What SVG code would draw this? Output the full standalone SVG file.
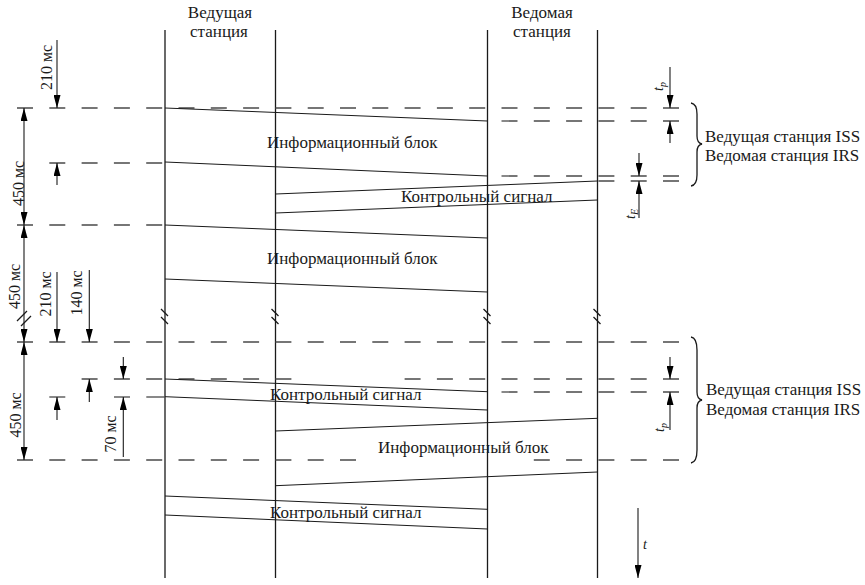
<svg xmlns="http://www.w3.org/2000/svg" width="865" height="585" viewBox="0 0 865 585">
<style>
.st{stroke:#1a1a1a;stroke-width:1.3;fill:none}
.sig{stroke:#1a1a1a;stroke-width:1;fill:none}
.dash{stroke:#4a4a4a;stroke-width:1.3;stroke-dasharray:16 16.3;fill:none}
.dim{stroke:#1a1a1a;stroke-width:1.1;fill:none}
.tk{stroke:#4a4a4a;stroke-width:1.3;fill:none}
text{font-family:'Liberation Serif','DejaVu Serif','Times New Roman',serif}
.t{font-size:17px;fill:#1a1a1a}
.r{font-size:16px;fill:#1a1a1a;text-anchor:middle}
.tc{text-anchor:middle}
.it{font-style:italic;font-size:14px;fill:#1a1a1a}
.brace{stroke:#1a1a1a;stroke-width:1.3;fill:none}
</style>
<defs>
<marker id="ar" markerUnits="userSpaceOnUse" viewBox="0 0 13 7" refX="13" refY="3.5" markerWidth="13" markerHeight="7" orient="auto-start-reverse">
<path d="M0,0 L13,3.5 L0,7 z" fill="#000"/>
</marker>
</defs>

<g id="master-header">
<text class="t tc" x="220" y="18">Ведущая</text>
<text class="t tc" x="219" y="37">станция</text>
</g>
<g id="slave-header">
<text class="t tc" x="542" y="18">Ведомая</text>
<text class="t tc" x="542" y="37">станция</text>
</g>

<g id="station-lines">
<line class="st" x1="165" y1="30" x2="165" y2="578"/>
<line class="st" x1="275.5" y1="30" x2="275.5" y2="578"/>
<line class="st" x1="487.5" y1="30" x2="487.5" y2="578"/>
<line class="st" x1="597.5" y1="30" x2="597.5" y2="578"/>
<path class="st" d="M161,309 L168,316 M161,317 L168,324"/>
<path class="st" d="M271.5,309 L278.5,316 M271.5,317 L278.5,324"/>
<path class="st" d="M483.5,309 L490.5,316 M483.5,317 L490.5,324"/>
<path class="st" d="M593.5,309 L600.5,316 M593.5,317 L600.5,324"/>
</g>

<g id="dashed-lines">
<line class="dash" x1="17" y1="108" x2="680" y2="108"/>
<line class="dash" x1="501.5" y1="121" x2="680" y2="121"/>
<line class="dash" x1="49.3" y1="163" x2="165" y2="163"/>
<line class="dash" x1="501.5" y1="176" x2="680" y2="176"/>
<line class="dash" x1="598.4" y1="181" x2="680" y2="181"/>
<line class="dash" x1="17" y1="225" x2="165" y2="225"/>
<line class="dash" x1="17" y1="342" x2="680" y2="342"/>
<line class="dash" x1="81.6" y1="379" x2="292" y2="379"/>
<line class="dash" x1="404.6" y1="379" x2="680" y2="379"/>
<line class="dash" x1="501.5" y1="392" x2="680" y2="392"/>
<line class="tk" x1="49.3" y1="397" x2="65.3" y2="397"/>
<line class="tk" x1="114" y1="397" x2="130" y2="397"/>
<line class="tk" x1="146.3" y1="397" x2="165" y2="397"/>
<line class="dash" x1="17" y1="460" x2="357" y2="460"/>
<line class="dash" x1="533.8" y1="460" x2="680" y2="460"/>
</g>

<g id="connectors">
<line class="sig" x1="165" y1="108" x2="487.5" y2="121"/>
<line class="sig" x1="165" y1="162" x2="487.5" y2="176"/>
<line class="sig" x1="275.5" y1="194" x2="597.5" y2="181"/>
<line class="sig" x1="275.5" y1="213" x2="597.5" y2="200"/>
<line class="sig" x1="165" y1="225" x2="487.5" y2="238"/>
<line class="sig" x1="165" y1="279" x2="487.5" y2="292"/>
<line class="sig" x1="165" y1="379" x2="487.5" y2="391.7"/>
<line class="sig" x1="165" y1="396.7" x2="487.5" y2="410"/>
<line class="sig" x1="275.5" y1="431" x2="597.5" y2="418.3"/>
<line class="sig" x1="275.5" y1="485.7" x2="597.5" y2="472"/>
<line class="sig" x1="165" y1="496" x2="487.5" y2="509.3"/>
<line class="sig" x1="165" y1="515" x2="487.5" y2="529"/>
</g>

<g id="info-block-1"><text class="t" x="267" y="148">Информационный блок</text></g>
<g id="control-signal-1"><text class="t" x="401" y="202">Контрольный сигнал</text></g>
<g id="info-block-2"><text class="t" x="267" y="264">Информационный блок</text></g>
<g id="control-signal-2"><text class="t" x="270" y="400">Контрольный сигнал</text></g>
<g id="info-block-3"><text class="t" x="378" y="453">Информационный блок</text></g>
<g id="control-signal-3"><text class="t" x="270" y="518">Контрольный сигнал</text></g>

<g id="dim-210-top">
<line class="dim" x1="57" y1="40" x2="57" y2="108" marker-end="url(#ar)"/>
<line class="dim" x1="57" y1="185" x2="57" y2="163" marker-end="url(#ar)"/>
<text class="r" transform="translate(52,67.5) rotate(-90)">210 мс</text>
</g>
<g id="dim-450-1">
<line class="dim" x1="24" y1="108" x2="24" y2="225" marker-start="url(#ar)" marker-end="url(#ar)"/>
<text class="r" transform="translate(23.5,183.5) rotate(-90)">450 мс</text>
</g>
<g id="dim-450-2">
<line class="dim" x1="24" y1="225" x2="24" y2="342" marker-start="url(#ar)" marker-end="url(#ar)"/>
<path class="st" d="M17,321 L27,311 M21,326 L31,316"/>
<text class="r" transform="translate(20,286.5) rotate(-90)">450 мс</text>
</g>
<g id="dim-210-bottom">
<line class="dim" x1="57" y1="272" x2="57" y2="342" marker-end="url(#ar)"/>
<line class="dim" x1="57" y1="420" x2="57" y2="397" marker-end="url(#ar)"/>
<text class="r" transform="translate(50.5,294) rotate(-90)">210 мс</text>
</g>
<g id="dim-140">
<line class="dim" x1="89.3" y1="270" x2="89.3" y2="342" marker-end="url(#ar)"/>
<line class="dim" x1="89.3" y1="402" x2="89.3" y2="379" marker-end="url(#ar)"/>
<text class="r" transform="translate(82,293) rotate(-90)">140 мс</text>
</g>
<g id="dim-450-3">
<line class="dim" x1="24" y1="342" x2="24" y2="460" marker-start="url(#ar)" marker-end="url(#ar)"/>
<text class="r" transform="translate(20.5,415) rotate(-90)">450 мс</text>
</g>
<g id="dim-70">
<line class="dim" x1="123.3" y1="357" x2="123.3" y2="379" marker-end="url(#ar)"/>
<line class="dim" x1="123.3" y1="457" x2="123.3" y2="397" marker-end="url(#ar)"/>
<text class="r" transform="translate(115.5,434) rotate(-90)">70 мс</text>
</g>

<g id="dim-tp-top">
<line class="dim" x1="670" y1="67" x2="670" y2="108" marker-end="url(#ar)"/>
<line class="dim" x1="670" y1="143" x2="670" y2="121" marker-end="url(#ar)"/>
<text class="it" transform="translate(663,91) rotate(-90)">t<tspan font-size="10" dy="3">p</tspan></text>
</g>
<g id="dim-te">
<line class="dim" x1="639" y1="153" x2="639" y2="176" marker-end="url(#ar)"/>
<line class="dim" x1="639" y1="218" x2="639" y2="181" marker-end="url(#ar)"/>
<text class="it" transform="translate(635,219) rotate(-90)">t<tspan font-size="10" dy="3">E</tspan></text>
</g>
<g id="dim-tp-bottom">
<line class="dim" x1="670" y1="357" x2="670" y2="379" marker-end="url(#ar)"/>
<line class="dim" x1="670" y1="430" x2="670" y2="392" marker-end="url(#ar)"/>
<text class="it" transform="translate(664,432) rotate(-90)">t<tspan font-size="10" dy="3">p</tspan></text>
</g>
<g id="time-axis">
<line class="dim" x1="638" y1="508" x2="638" y2="578" marker-end="url(#ar)"/>
<text class="it" x="643" y="549">t</text>
</g>

<g id="legend-top">
<path class="brace" d="M691,103 Q697,104 697,114 L697,136 Q697,143 702,144 Q697,145 697,152 L697,175 Q697,185 691,186"/>
<text class="t" x="705" y="142">Ведущая станция ISS</text>
<text class="t" x="705" y="161">Ведомая станция IRS</text>
</g>
<g id="legend-bottom">
<path class="brace" d="M691,337 Q697,338 697,350 L697,392 Q697,399 702,400 Q697,401 697,408 L697,450 Q697,462 691,463"/>
<text class="t" x="706" y="395">Ведущая станция ISS</text>
<text class="t" x="706" y="415">Ведомая станция IRS</text>
</g>
</svg>
